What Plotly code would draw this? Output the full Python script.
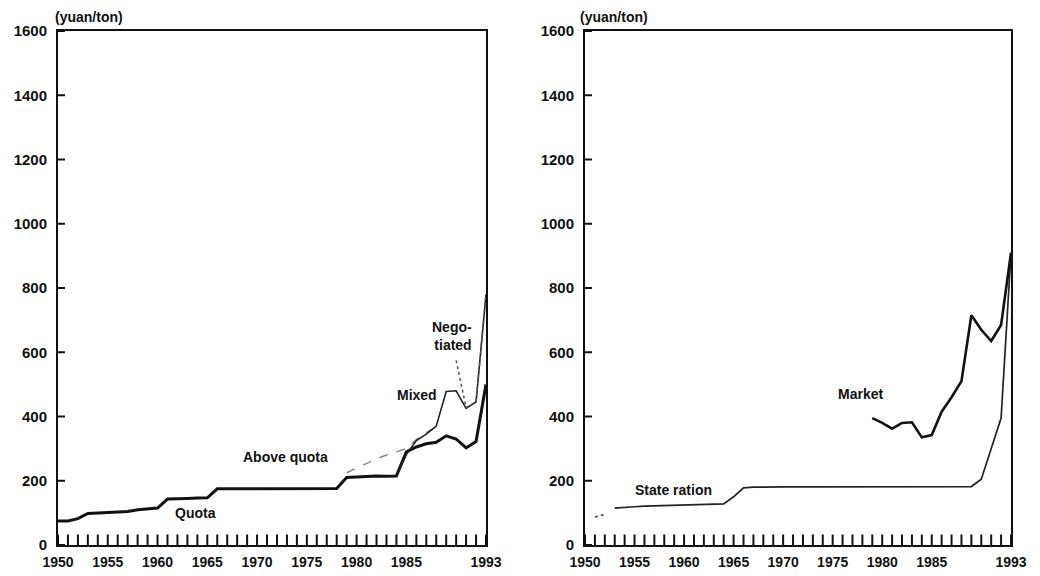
import plotly.graph_objects as go

# ---------------- data ----------------
years_quota = list(range(1950, 1994))
quota = [75, 75, 82, 98, 100, 101, 102, 104, 110, 112, 115, 143, 145, 145, 146, 147,
         175, 175, 175, 175, 175, 175, 175, 175, 175, 175, 175, 175, 176, 210,
         212, 214, 215, 214, 215, 290, 305, 315, 320, 340, 330, 302, 322, 500]

years_above = list(range(1979, 1989))
above_quota = [225, 240, 255, 268, 280, 290, 300, 328, 350, 368]

years_mixed = list(range(1984, 1994))
mixed = [215, 282, 325, 345, 370, 478, 480, 425, 445, 780]

years_nego = [1990, 1991, 1992, 1993]
negotiated = [575, 428, 445, 780]

years_market = list(range(1979, 1994))
market = [395, 380, 362, 380, 382, 335, 342, 415, 460, 510, 715, 670, 635, 685, 910]

years_state = list(range(1951, 1994))
state_ration = [87, 95, 115, 116, 119, 121, 122, 123, 124, 125, 126, 126, 127, 128, 150,
                178, 180, 181, 181, 181, 181, 181, 181, 181, 181, 181, 181, 181, 181,
                181, 181, 182, 182, 181, 181, 180, 180, 180, 182, 205, 300, 395, 910]

tick_years = list(range(1950, 1994))
label_years = [1950, 1955, 1960, 1965, 1970, 1975, 1980, 1985, 1993]
y_tickvals = [0, 200, 400, 600, 800, 1000, 1200, 1400, 1600]

# ---------------- figure ----------------
INK = "#111111"
FONT = "Liberation Sans"

x_ticktext = [str(y) if y in label_years else "" for y in tick_years]

fig = go.Figure()

# left panel
fig.add_trace(go.Scatter(x=years_quota, y=quota, mode="lines", xaxis="x", yaxis="y",
                         line=dict(color=INK, width=3), name="Quota"))
fig.add_trace(go.Scatter(x=years_above, y=above_quota, mode="lines", xaxis="x", yaxis="y",
                         line=dict(color="#888888", width=1.5, dash="dash"), name="Above quota"))
fig.add_trace(go.Scatter(x=years_mixed, y=mixed, mode="lines", xaxis="x", yaxis="y",
                         line=dict(color="#222222", width=1.6), name="Mixed"))
fig.add_trace(go.Scatter(x=years_nego, y=negotiated, mode="lines", xaxis="x", yaxis="y",
                         line=dict(color="#555555", width=1.5, dash="dot"), name="Negotiated"))

# right panel
fig.add_trace(go.Scatter(x=years_state[:2], y=state_ration[:2], mode="lines", xaxis="x2", yaxis="y2",
                         line=dict(color="#444444", width=1.4, dash="dot"), showlegend=False))
fig.add_trace(go.Scatter(x=years_state[2:], y=state_ration[2:], mode="lines", xaxis="x2", yaxis="y2",
                         line=dict(color="#222222", width=1.7), name="State ration"))
fig.add_trace(go.Scatter(x=years_market, y=market, mode="lines", xaxis="x2", yaxis="y2",
                         line=dict(color=INK, width=2.6), name="Market"))

# inside tick marks (half of each symbol is clipped by the plot area)
for xa, ya in (("x", "y"), ("x2", "y2")):
    fig.add_trace(go.Scatter(
        x=tick_years, y=[y_tickvals[0]] * len(tick_years), mode="markers", xaxis=xa, yaxis=ya,
        marker=dict(symbol="line-ns", size=15, line=dict(color=INK, width=2)),
        hoverinfo="skip", showlegend=False))
    fig.add_trace(go.Scatter(
        x=[tick_years[0]] * len(y_tickvals), y=y_tickvals, mode="markers", xaxis=xa, yaxis=ya,
        marker=dict(symbol="line-ew", size=10, line=dict(color=INK, width=2)),
        hoverinfo="skip", showlegend=False))

xaxis_common = dict(
    range=[1950, 1993], tickmode="array", tickvals=tick_years, ticktext=x_ticktext,
    ticks="",
    showline=True, linecolor=INK, linewidth=2, mirror=True,
    showgrid=False, zeroline=False, automargin=False,
    tickfont=dict(family=FONT, size=14, color=INK, weight="bold"),
    ticklabelstandoff=3,
)
yaxis_common = dict(
    range=[0, 1600], tickmode="array", tickvals=y_tickvals,
    ticks="",
    showline=True, linecolor=INK, linewidth=2, mirror=True,
    showgrid=False, zeroline=False, automargin=False,
    tickfont=dict(family=FONT, size=15, color=INK, weight="bold"),
    ticklabelstandoff=6,
)

fig.update_layout(
    template="none",
    width=1040, height=576,
    margin=dict(l=0, r=0, t=31, b=31, autoexpand=False),
    paper_bgcolor="white", plot_bgcolor="white",
    showlegend=False,
    xaxis=dict(domain=[58 / 1040, 486 / 1040], anchor="y", **xaxis_common),
    yaxis=dict(domain=[0, 1], anchor="x", **yaxis_common),
    xaxis2=dict(domain=[585 / 1040, 1011 / 1040], anchor="y2", **xaxis_common),
    yaxis2=dict(domain=[0, 1], anchor="x2", **yaxis_common),
    font=dict(family=FONT, color=INK),
)

lab_font = dict(family=FONT, size=14, color=INK, weight="bold")
unit_font = dict(family=FONT, size=14, color=INK, weight="bold")
annotations = [
    # units
    dict(x=53 / 1040, y=1, xref="paper", yref="paper", text="(yuan/ton)", showarrow=False,
         xanchor="left", yanchor="bottom", yshift=4, font=unit_font),
    dict(x=578 / 1040, y=1, xref="paper", yref="paper", text="(yuan/ton)", showarrow=False,
         xanchor="left", yanchor="bottom", yshift=4, font=unit_font),
    # left labels
    dict(x=1963.8, y=99, xref="x", yref="y", text="Quota", showarrow=False, font=lab_font),
    dict(x=1972.9, y=273, xref="x", yref="y", text="Above quota", showarrow=False, font=lab_font),
    dict(x=1986.1, y=466, xref="x", yref="y", text="Mixed", showarrow=False, font=lab_font),
    dict(x=1989.6, y=650, xref="x", yref="y", text="Nego-<br>tiated", showarrow=False,
         font=lab_font, align="right"),
    # right labels
    dict(x=1977.8, y=469, xref="x2", yref="y2", text="Market", showarrow=False, font=lab_font),
    dict(x=1958.9, y=172, xref="x2", yref="y2", text="State ration", showarrow=False, font=lab_font),
]
fig.update_layout(annotations=annotations)

fig.write_html("out.html")
